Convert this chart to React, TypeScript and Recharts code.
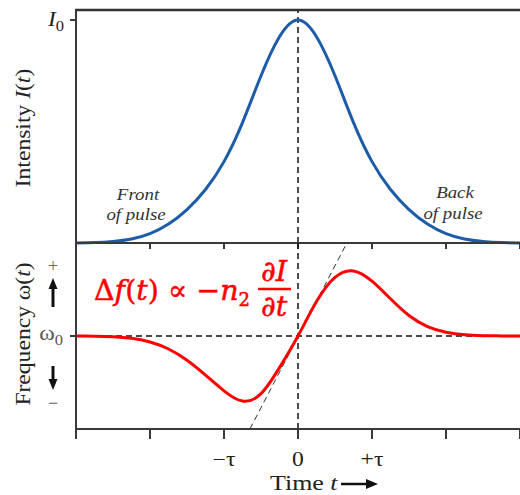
import React from "react";
import { LineChart, Line, XAxis, YAxis, ReferenceLine } from "recharts";

// time in units of tau
const timeSteps = [
  -3, -2.75, -2.5, -2.25, -2, -1.75, -1.5, -1.25, -1, -0.75, -0.5, -0.25, 0,
  0.25, 0.5, 0.75, 1, 1.25, 1.5, 1.75, 2, 2.25, 2.5, 2.75, 3,
];
// I(t) / I0
const intensity = [
  0, 0.002, 0.007, 0.018, 0.042, 0.085, 0.15, 0.24, 0.365, 0.54, 0.75, 0.925, 1,
  0.925, 0.75, 0.54, 0.365, 0.24, 0.15, 0.085, 0.042, 0.018, 0.007, 0.002, 0,
];
// frequency shift, +1 = top of lower panel
const chirp = [
  0, -0.002, -0.008, -0.025, -0.065, -0.14, -0.26, -0.42, -0.59, -0.7, -0.62, -0.34, 0,
  0.37, 0.63, 0.7, 0.59, 0.4, 0.22, 0.1, 0.04, 0.013, 0.004, 0.001, 0,
];
const tangentT = [-0.65, 0.66];
const tangentW = [-1, 1];

const timeTicks = [-3, -2, -1, 0, 1, 2, 3];
const timeTickLabels = ["", "", "\u2212\u03c4", "0", "+\u03c4", "", ""];
const intensityTicks = [0, 1];
const omegaTicks = [0];
const INTENSITY_MAX = 1.045;

const pulse = timeSteps.map((t, i) => ({ t, I: intensity[i], w: chirp[i] }));
const tangent = tangentT.map((t, i) => ({ t, w: tangentW[i] }));

const SERIF = "'Liberation Serif', 'Times New Roman', serif";
const AXIS = "#3a3a3a";
const TEXT = "#222";
const BLUE = "#1d5ca8";
const RED = "#ff0000";
const SX = 1.18; // the source font is a bit wider than Times

const axisLine = { stroke: AXIS, strokeWidth: 2 };
const dashed = { stroke: "#111", strokeWidth: 1.5, strokeDasharray: "6 4" };

function NoTick() {
  return <g />;
}

function IntensityTick(props: any) {
  const { x, y, payload } = props;
  if (payload.value === 1) {
    return (
      <g transform={`translate(${x - 4},${y + 6}) scale(${SX},1)`}>
        <text textAnchor="end" fontFamily={SERIF} fontSize={20} fill={TEXT}>
          <tspan fontStyle="italic">I</tspan>
          <tspan fontSize={14} dy={5}>0</tspan>
        </text>
      </g>
    );
  }
  return (
    <g transform={`translate(${x - 6},${y + 7}) scale(${SX},1)`}>
      <text textAnchor="end" fontFamily={SERIF} fontSize={20} fill={TEXT}>
        0
      </text>
    </g>
  );
}

function OmegaTick(props: any) {
  const { x, y } = props;
  return (
    <g transform={`translate(${x - 5},${y + 4}) scale(${SX},1)`}>
      <text textAnchor="end" fontFamily={SERIF} fontSize={20} fill="#555">
        {"\u03c9"}
        <tspan fontSize={14} dy={5}>0</tspan>
      </text>
    </g>
  );
}

function TimeTick(props: any) {
  const { x, y, payload } = props;
  const label = timeTickLabels[timeTicks.indexOf(payload.value)];
  if (!label) return <g />;
  return (
    <g transform={`translate(${x},${y + 25}) scale(${SX},1)`}>
      <text textAnchor="middle" fontFamily={SERIF} fontSize={20} fill={TEXT}>
        {label}
      </text>
    </g>
  );
}

function Overlay() {
  return (
    <svg
      width={520}
      height={495}
      style={{ position: "absolute", left: 0, top: 0, pointerEvents: "none", zIndex: 5 }}
    >
      {/* frame on top of the intensity panel */}
      <path d="M75,10 H520" stroke="#333" strokeWidth={2.5} fill="none" />

      <g transform={`translate(30,128) rotate(-90) scale(${SX},1)`}>
        <text textAnchor="middle" fontFamily={SERIF} fontSize={20} fill={TEXT}>
          Intensity <tspan fontStyle="italic">I</tspan>(<tspan fontStyle="italic">t</tspan>)
        </text>
      </g>
      <g transform={`translate(30,334) rotate(-90) scale(${SX},1)`}>
        <text textAnchor="middle" fontFamily={SERIF} fontSize={20} fill={TEXT}>
          Frequency {"\u03c9"}(<tspan fontStyle="italic">t</tspan>)
        </text>
      </g>

      <g fontFamily={SERIF} fontSize={16} fontStyle="italic" fill="#333" textAnchor="middle">
        <g transform={`translate(138,200) scale(${SX},1)`}>
          <text>Front</text>
        </g>
        <g transform={`translate(136,220) scale(${SX},1)`}>
          <text>of pulse</text>
        </g>
        <g transform={`translate(455,198) scale(${SX},1)`}>
          <text>Back</text>
        </g>
        <g transform={`translate(453,219) scale(${SX},1)`}>
          <text>of pulse</text>
        </g>
      </g>

      <g fontFamily={SERIF} fontSize={18} fill="#666" textAnchor="middle">
        <text x={53} y={272}>+</text>
        <text x={53} y={409}>{"\u2212"}</text>
      </g>
      <g stroke="#111" strokeWidth={3} fill="#111">
        <line x1={53} y1={307} x2={53} y2={286} />
        <polygon points="53,278 48.5,289 57.5,289" stroke="none" />
        <line x1={53} y1={366} x2={53} y2={382} />
        <polygon points="53,390 48.5,379 57.5,379" stroke="none" />
      </g>

      <g transform={`translate(270,490) scale(${SX},1)`}>
        <text fontFamily={SERIF} fontSize={22} fill={TEXT}>
          Time <tspan fontStyle="italic">t</tspan>
        </text>
      </g>
      <line x1={341} y1={484} x2={368} y2={484} stroke="#111" strokeWidth={2.5} />
      <polygon points="378,484 366,479 366,489" fill="#111" />

      <g fontFamily="'DejaVu Serif', serif" fill={RED} stroke={RED} strokeWidth={0.5}>
        <text x={94} y={300} fontSize={28.5}>
          {"\u0394"}
          <tspan fontStyle="italic">f</tspan>(<tspan fontStyle="italic">t</tspan>) {"\u221d"} {"\u2212"}
          <tspan fontStyle="italic">n</tspan>
          <tspan fontSize={18} dy={6}>2</tspan>
        </text>
        <text x={274} y={281} fontSize={28.5} textAnchor="middle">
          {"\u2202"}
          <tspan fontStyle="italic">I</tspan>
        </text>
        <line x1={258} y1={289} x2={291} y2={289} stroke={RED} strokeWidth={2.5} />
        <text x={274} y={316} fontSize={28.5} textAnchor="middle">
          {"\u2202"}
          <tspan fontStyle="italic">t</tspan>
        </text>
      </g>
    </svg>
  );
}

export default function App() {
  return (
    <div style={{ position: "absolute", left: 0, top: 0, width: 520, height: 495, background: "#fff" }}>
      <div style={{ position: "absolute", left: 0, top: 0, borderTop: "0px solid transparent" }}>
        <LineChart width={520} height={250} data={pulse} margin={{ top: 10, right: 0, bottom: 0, left: 0 }}>
          <XAxis
            type="number"
            dataKey="t"
            domain={[-3, 3]}
            ticks={timeTicks}
            height={7}
            tickSize={6}
            tick={NoTick}
            tickLine={axisLine}
            axisLine={axisLine}
          />
          <YAxis
            type="number"
            domain={[0, INTENSITY_MAX]}
            ticks={intensityTicks}
            width={76}
            tickSize={6}
            tick={IntensityTick}
            tickLine={axisLine}
            axisLine={axisLine}
          />
          <ReferenceLine x={0} {...dashed} />
          <Line
            type="natural"
            dataKey="I"
            stroke={BLUE}
            strokeWidth={3}
            dot={false}
            isAnimationActive={false}
          />
        </LineChart>
      </div>
      <div style={{ position: "absolute", left: 0, top: 240 }}>
        <LineChart width={520} height={255} data={pulse} margin={{ top: 3, right: 0, bottom: 0, left: 0 }}>
          <XAxis
            type="number"
            dataKey="t"
            domain={[-3, 3]}
            ticks={timeTicks}
            height={66}
            tickSize={10}
            tick={TimeTick}
            tickLine={axisLine}
            axisLine={axisLine}
          />
          <YAxis
            type="number"
            domain={[-1, 1]}
            ticks={omegaTicks}
            width={76}
            tickSize={6}
            tick={OmegaTick}
            tickLine={axisLine}
            axisLine={axisLine}
          />
          <ReferenceLine y={0} {...dashed} />
          <ReferenceLine x={0} {...dashed} />
          <Line
            data={tangent}
            type="linear"
            dataKey="w"
            stroke="#333"
            strokeWidth={1}
            strokeDasharray="6 4"
            dot={false}
            isAnimationActive={false}
          />
          <Line
            type="natural"
            dataKey="w"
            stroke={RED}
            strokeWidth={3}
            dot={false}
            isAnimationActive={false}
          />
        </LineChart>
      </div>
      <Overlay />
    </div>
  );
}
